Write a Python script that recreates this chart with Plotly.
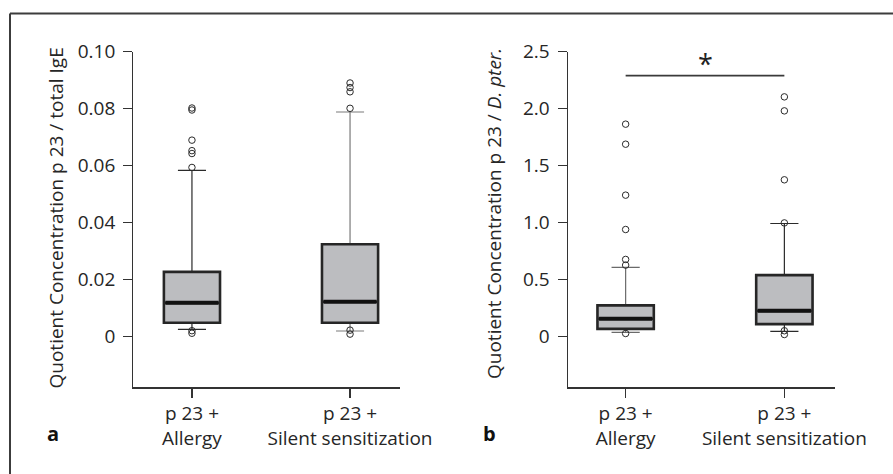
import plotly.graph_objects as go

W, H = 893, 474

# ---------------- data ----------------
categories = ["p 23 +<br>Allergy", "p 23 +<br>Silent sensitization"]

# panel a: quotient p23 / total IgE
a_q1 = [0.0047, 0.0047]
a_median = [0.0117, 0.0121]
a_q3 = [0.0226, 0.0323]
a_lowerfence = [0.0024, 0.0018]
a_upperfence = [0.0583, 0.0788]
a_outliers = [
    [0.0802, 0.0795, 0.0689, 0.0652, 0.0642, 0.0593, 0.0019, 0.0010],
    [0.0890, 0.0874, 0.0859, 0.0801, 0.0021, 0.0007],
]
a_ticks = [0, 0.02, 0.04, 0.06, 0.08, 0.10]
a_ticklabels = ["0", "0.02", "0.04", "0.06", "0.08", "0.10"]

# panel b: quotient p23 / D. pter.
b_q1 = [0.064, 0.105]
b_median = [0.152, 0.222]
b_q3 = [0.270, 0.536]
b_lowerfence = [0.032, 0.041]
b_upperfence = [0.604, 0.990]
b_outliers = [
    [1.863, 1.687, 1.239, 0.937, 0.674, 0.624, 0.023],
    [2.103, 1.980, 1.374, 0.995, 0.047, 0.014],
]
b_ticks = [0, 0.5, 1.0, 1.5, 2.0, 2.5]
b_ticklabels = ["0", "0.5", "1.0", "1.5", "2.0", "2.5"]
b_sig_y = 2.29

# ---------------- style ----------------
FONT = "Open Sans"
FS = 19
TXT = "#262626"
BOXFILL = "#bcbdc0"
BOXLINE = "#262626"
BOXW = 0.355

fig = go.Figure()


def add_panel(xa, ya, q1, med, q3, lf, uf, outl, whisk_colors):
    for i in range(2):
        # thin whiskers + caps
        fig.add_trace(go.Box(
            x=[i], q1=[q1[i]], median=[med[i]], q3=[q3[i]],
            lowerfence=[lf[i]], upperfence=[uf[i]],
            width=BOXW, whiskerwidth=0.5,
            line=dict(color=whisk_colors[i], width=1.2),
            fillcolor=BOXFILL, xaxis=xa, yaxis=ya,
            showlegend=False, hoverinfo="skip", boxpoints=False))
        # thick box outline
        fig.add_trace(go.Box(
            x=[i], q1=[q1[i]], median=[med[i]], q3=[q3[i]],
            lowerfence=[q1[i]], upperfence=[q3[i]],
            width=BOXW, whiskerwidth=0,
            line=dict(color=BOXLINE, width=2.6),
            fillcolor=BOXFILL, xaxis=xa, yaxis=ya,
            showlegend=False, hoverinfo="skip", boxpoints=False))
        # thick median
        fig.add_trace(go.Scatter(
            x=[i - BOXW / 2 + 0.01, i + BOXW / 2 - 0.01], y=[med[i], med[i]],
            mode="lines", line=dict(color="#111111", width=4),
            xaxis=xa, yaxis=ya, showlegend=False, hoverinfo="skip"))
        # outliers
        fig.add_trace(go.Scatter(
            x=[i] * len(outl[i]), y=outl[i], mode="markers",
            marker=dict(symbol="circle-open", size=6.5, color="#2a2a2a",
                        line=dict(width=1)),
            xaxis=xa, yaxis=ya, showlegend=False, hoverinfo="skip"))


add_panel("x", "y", a_q1, a_median, a_q3, a_lowerfence, a_upperfence,
          a_outliers, ["#2a2a2a", "#7a7a7a"])
add_panel("x2", "y2", b_q1, b_median, b_q3, b_lowerfence, b_upperfence,
          b_outliers, ["#6a6a6a", "#2a2a2a"])

# significance bar
fig.add_trace(go.Scatter(
    x=[0, 1], y=[b_sig_y, b_sig_y], mode="lines",
    line=dict(color="#3a3a3a", width=1.6), xaxis="x2", yaxis="y2",
    showlegend=False, hoverinfo="skip"))

ydom = [1 - 387.3 / H, 1 - 51.7 / H]
axis_common = dict(
    showline=True, linecolor="#333333", linewidth=1.2,
    ticks="outside", ticklen=9, tickwidth=1.2, tickcolor="#333333",
    showgrid=False, zeroline=False, automargin=False,
    tickfont=dict(family=FONT, size=FS, color=TXT),
)

fig.update_layout(
    template="none",
    width=W, height=H, autosize=False,
    margin=dict(l=0, r=0, t=0, b=0, pad=0),
    paper_bgcolor="white", plot_bgcolor="white",
    boxmode="overlay", showlegend=False,
    font=dict(family=FONT, size=FS, color=TXT),
    xaxis=dict(domain=[133.3 / W, 400 / W], range=[-0.371, 1.316],
               tickvals=[0, 1], ticktext=categories, anchor="y", **axis_common),
    yaxis=dict(domain=ydom, range=[-0.018, 0.10], tickvals=a_ticks,
               ticktext=a_ticklabels, anchor="x", ticklabelstandoff=4,
               **axis_common),
    xaxis2=dict(domain=[567.7 / W, 835 / W], range=[-0.365, 1.319],
                tickvals=[0, 1], ticktext=categories, anchor="y2", **axis_common),
    yaxis2=dict(domain=ydom, range=[-0.45, 2.5], tickvals=b_ticks,
                ticktext=b_ticklabels, anchor="x2", ticklabelstandoff=4,
                **axis_common),
)

annotations = [
    dict(text="Quotient Concentration p 23 / total IgE", textangle=-90,
         xref="paper", yref="paper", x=55.5 / W, y=1 - 218 / H,
         xanchor="center", yanchor="middle", showarrow=False,
         font=dict(family=FONT, size=FS, color=TXT)),
    dict(text="Quotient Concentration p 23 / <i>D. pter.</i>", textangle=-90,
         xref="paper", yref="paper", x=494 / W, y=1 - 214 / H,
         xanchor="center", yanchor="middle", showarrow=False,
         font=dict(family=FONT, size=FS, color=TXT)),
    dict(text="<b>a</b>", xref="paper", yref="paper", x=52.5 / W, y=1 - 433 / H,
         xanchor="center", yanchor="middle", showarrow=False,
         font=dict(family=FONT, size=20, color="#111111")),
    dict(text="<b>b</b>", xref="paper", yref="paper", x=489 / W, y=1 - 433 / H,
         xanchor="center", yanchor="middle", showarrow=False,
         font=dict(family=FONT, size=20, color="#111111")),
    dict(text="*", xref="x2", yref="y2", x=0.5, y=b_sig_y, yshift=-8,
         xanchor="center", yanchor="bottom", showarrow=False,
         font=dict(family=FONT, size=27, color="#222222")),
]
fig.update_layout(annotations=annotations)

# frame (left and top edges of the figure panel)
fig.add_shape(type="line", xref="paper", yref="paper",
              x0=10 / W, x1=1.0, y0=1 - 13.5 / H, y1=1 - 13.5 / H,
              line=dict(color="#3c3c3c", width=2))
fig.add_shape(type="line", xref="paper", yref="paper",
              x0=10 / W, x1=10 / W, y0=0, y1=1 - 13.5 / H,
              line=dict(color="#3c3c3c", width=2))

post = (
    "document.body.style.margin='0';"
    "document.body.style.overflow='hidden';"
    "var gd=document.getElementById('{plot_id}');"
    "gd.style.position='absolute';gd.style.left='0px';gd.style.top='0px';"
)
fig.write_html("out.html", post_script=post,
               config={"displayModeBar": False, "staticPlot": True})
